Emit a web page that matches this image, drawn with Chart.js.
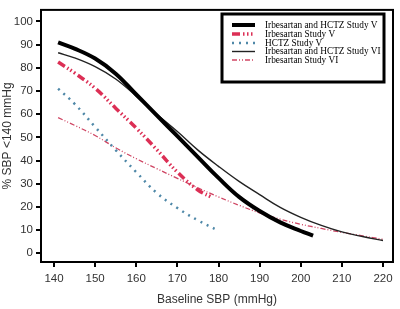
<!DOCTYPE html>
<html>
<head>
<meta charset="utf-8">
<script src="https://cdn.jsdelivr.net/npm/chart.js@4/dist/chart.umd.min.js"></script>
<style>
html,body{margin:0;padding:0;background:#fff;}
#wrap{width:400px;height:309px;position:relative;}
</style>
</head>
<body>
<div id="wrap"><canvas id="c" width="400" height="309"></canvas></div>
<script>
// Tick labels
const xTicks = [140,150,160,170,180,190,200,210,220];
const yTicks = [0,10,20,30,40,50,60,70,80,90,100];

// Series: Irbesartan and HCTZ Study V
const irbHctzV_x = [141,145,150,155,160,165,170,175,180,185,190,195,200,203];
const irbHctzV_y = [91,88.3,84,77.5,68.5,59.5,50.5,41.5,32.5,24.3,18.2,13.3,9.6,7.6];
// Irbesartan Study V
const irbV_x = [141,145,150,155,160,165,170,175,178.5];
const irbV_y = [82.5,77.8,71.2,62.6,54,44.7,35,27.3,24];
// HCTZ Study V
const hctzV_x = [141,145,150,155,160,165,170,175,180];
const hctzV_y = [71,64.5,54.5,44.5,35,26,19.5,14.2,9.7];
// Irbesartan and HCTZ Study VI
const irbHctzVI_x = [141,145,150,155,160,165,170,175,180,185,190,195,200,205,210,215,220];
const irbHctzVI_y = [86.5,84.3,80.5,75.2,67.8,60,52.5,44.5,37.5,31,25.3,19.8,15.5,12,9.2,7.2,5.5];
// Irbesartan Study VI
const irbVI_x = [141,145,150,155,160,165,170,175,180,185,190,195,200,205,210,215,220];
const irbVI_y = [58.5,55.2,50.8,45.5,40.8,36.5,32.3,28.2,24.3,20.7,17.4,14.7,12.5,10.7,9,7.5,6];

const seriesNames = ["Irbesartan and HCTZ Study V","Irbesartan Study V","HCTZ Study V","Irbesartan and HCTZ Study VI","Irbesartan Study VI"];

function pts(xs, ys){ return xs.map((x,i)=>({x:x,y:ys[i]})); }

const styles = [
  {color:'#000000', width:4, dash:[]},
  {color:'#dc2f55', width:3.5, dash:[8,3,1.5,2.5,1.5,2.5,1.5,3]},
  {color:'#4f88a8', width:2.5, dash:[2,5]},
  {color:'#222222', width:1.4, dash:[]},
  {color:'#cf4563', width:1.3, dash:[5,2,1,2,1,2]}
];
const seriesX = [irbHctzV_x, irbV_x, hctzV_x, irbHctzVI_x, irbVI_x];
const seriesY = [irbHctzV_y, irbV_y, hctzV_y, irbHctzVI_y, irbVI_y];

const datasets = seriesNames.map((n,i)=>({
  label:n,
  data:pts(seriesX[i], seriesY[i]),
  borderColor:styles[i].color,
  borderWidth:styles[i].width,
  borderDash:styles[i].dash,
  borderCapStyle:'butt',
  pointRadius:0,
  fill:false,
  tension:0.4
}));

const framePlugin = {
  id:'frame',
  afterDraw(chart){
    const ctx = chart.ctx, a = chart.chartArea;
    ctx.save();
    ctx.strokeStyle='#000'; ctx.lineWidth=2;
    ctx.strokeRect(a.left, a.top, a.right-a.left, a.bottom-a.top);
    // legend box
    const bx=222, by=14, bw=162, bh=68;
    ctx.fillStyle='#fff';
    ctx.fillRect(bx,by,bw,bh);
    ctx.lineWidth=3;
    ctx.strokeRect(bx,by,bw,bh);
    const rows=[25,34,43,51.5,60];
    ctx.font='9.3px "Liberation Serif", "Times New Roman", serif';
    ctx.textBaseline='middle';
    seriesNames.forEach((n,i)=>{
      const s=styles[i];
      ctx.beginPath();
      ctx.strokeStyle=s.color;
      ctx.lineWidth=s.width;
      ctx.setLineDash(s.dash);
      ctx.lineCap='butt';
      ctx.moveTo(232, rows[i]); ctx.lineTo(255, rows[i]);
      ctx.stroke();
      ctx.setLineDash([]);
      ctx.fillStyle='#000';
      ctx.fillText(n, 265, rows[i]+0.5);
    });
    ctx.restore();
  }
};

new Chart(document.getElementById('c'), {
  type:'line',
  data:{datasets:datasets},
  plugins:[framePlugin],
  options:{
    responsive:false,
    animation:false,
    devicePixelRatio:1,
    layout:{padding:{top:3,right:7,left:0,bottom:0}},
    plugins:{legend:{display:false}, tooltip:{enabled:false}},
    scales:{
      x:{
        type:'linear', min:136.84, max:222.43,
        afterBuildTicks(s){ s.ticks = xTicks.map(v=>({value:v})); },
        afterFit(s){ s.height = 47; },
        border:{display:false},
        grid:{drawOnChartArea:false, drawTicks:true, tickLength:5, color:'#000', lineWidth:2},
        ticks:{color:'#333', font:{family:'"Liberation Sans", Arial, sans-serif', size:11.5}, padding:5, maxRotation:0, autoSkip:false},
        title:{display:true, text:'Baseline SBP (mmHg)', color:'#333', font:{family:'"Liberation Sans", Arial, sans-serif', size:12}, padding:{top:0,bottom:2}}
      },
      y:{
        type:'linear', min:-3.78, max:105,
        afterBuildTicks(s){ s.ticks = yTicks.map(v=>({value:v})); },
        afterFit(s){ s.width = 41; },
        border:{display:false},
        grid:{drawOnChartArea:false, drawTicks:true, tickLength:5, color:'#000', lineWidth:2},
        ticks:{color:'#333', font:{family:'"Liberation Sans", Arial, sans-serif', size:11.5}, padding:3, autoSkip:false},
        title:{display:true, text:'% SBP <140 mmHg', color:'#333', font:{family:'"Liberation Sans", Arial, sans-serif', size:12}, padding:{top:0,bottom:0}}
      }
    }
  }
});
</script>
</body>
</html>
